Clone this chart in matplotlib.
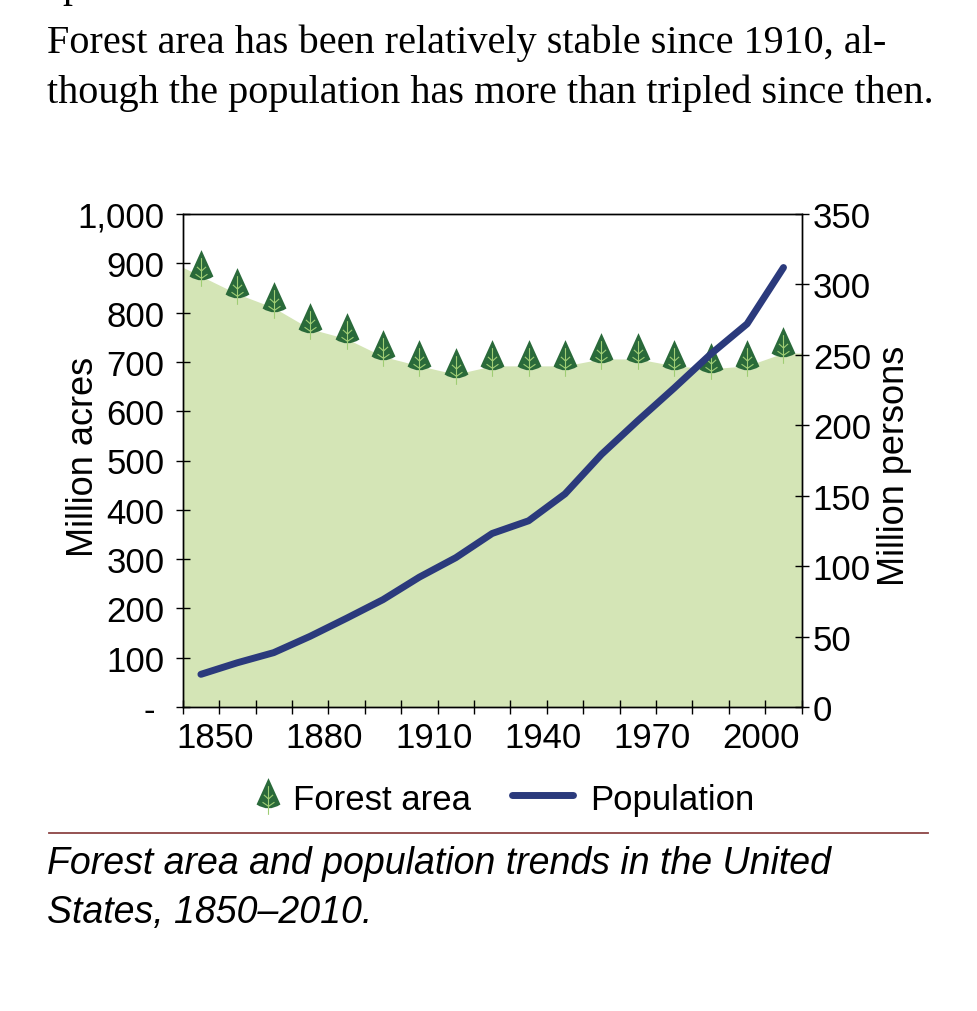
import numpy as np
import matplotlib
matplotlib.use("Agg")
import matplotlib.pyplot as plt
from matplotlib.path import Path
from matplotlib.markers import MarkerStyle
from matplotlib.lines import Line2D
from matplotlib import font_manager
from matplotlib.ticker import FixedLocator, FuncFormatter
import matplotlib.transforms as mtransforms

# ---------------- data ----------------
years = [1850, 1860, 1870, 1880, 1890, 1900, 1910, 1920, 1930, 1940,
         1950, 1960, 1970, 1980, 1990, 2000, 2010]
forest_area = [874, 838, 810, 767, 747, 711, 692, 675, 692, 692,
               692, 706, 706, 692, 686, 692, 718]          # million acres
population = [23.2, 31.4, 38.6, 50.2, 63.0, 76.2, 92.2, 106.0, 123.2, 132.2,
              151.3, 179.3, 203.3, 226.5, 250.5, 272.0, 312.0]  # million persons
x_labels = ["1850", "1880", "1910", "1940", "1970", "2000"]
left_ticks = [0, 100, 200, 300, 400, 500, 600, 700, 800, 900, 1000]
right_ticks = [0, 50, 100, 150, 200, 250, 300, 350]

title_lines = ["Forest area has been relatively stable since 1910, al-",
               "though the population has more than tripled since then."]
caption_lines = ["Forest area and population trends in the United",
                 "States, 1850\u20132010."]

# ---------------- style ----------------
AREA = "#d4e5b6"
TREE = "#2a6a3a"
VEIN = "#9fcd74"
NAVY = "#2b3a7c"
RULE = "#8c4444"


def available(name):
    try:
        font_manager.findfont(font_manager.FontProperties(family=name),
                              fallback_to_default=False)
        return True
    except Exception:
        return False


if available("Liberation Sans Narrow"):
    SANS, TICK_FS, LAB_FS = "Liberation Sans Narrow", 29, 31
else:
    SANS, TICK_FS, LAB_FS = "Liberation Sans", 25, 26
plt.rcParams["font.family"] = [SANS, "DejaVu Sans"]

W, H = 978, 1012
fig = plt.figure(figsize=(W / 100, H / 100), dpi=100)
fig.patch.set_facecolor("white")


def fx(px):
    return px / W


def fy(py):
    return 1 - py / H


# tree marker paths (same scale anchor: apex at 1.15)
M, L, C3, CL = Path.MOVETO, Path.LINETO, Path.CURVE3, Path.CLOSEPOLY
body_path = Path([(0, 1.15), (-0.52, 0.0), (0, -0.34), (0.52, 0.0), (0, 1.15), (0, 1.15)],
                 [M, L, C3, C3, L, CL])
vein_path = Path([(0, 1.15), (0, 0.8), (0, -0.45),
                  (-0.2, 0.42), (0, 0.24), (0.2, 0.42),
                  (-0.26, 0.1), (0, -0.08), (0.26, 0.1)],
                 [M, M, L, M, L, L, M, L, L])
TREE_MS = 38


def draw_trees(target, xs, ys, **kw):
    target.plot(xs, ys, ls="none", marker=MarkerStyle(body_path), ms=TREE_MS,
                mfc=TREE, mec="none", mew=0, **kw)
    target.plot(xs, ys, ls="none", marker=MarkerStyle(vein_path), ms=TREE_MS,
                mfc="none", mec=VEIN, mew=0.8, **kw)


# ---------------- axes ----------------
ax = fig.add_axes([fx(182.7), fy(708), fx(801.7) - fx(182.7), fy(215) - fy(708)])

yrs = np.array(years, dtype=float)
fa = np.array(forest_area, dtype=float)
step = yrs[1] - yrs[0]
left_edge, right_edge = yrs[0] - step / 2, yrs[-1] + step / 2
fa_left = fa[0] - (fa[1] - fa[0]) / 2
fa_right = fa[-1]
ax.fill_between(np.r_[left_edge, yrs, right_edge], np.r_[fa_left, fa, fa_right], 0,
                color=AREA, lw=0, zorder=1)
draw_trees(ax, yrs, fa, zorder=3, clip_on=False)

ax.set_xlim(left_edge, right_edge)
ax.set_ylim(0, 1000)
ax.yaxis.set_major_locator(FixedLocator(left_ticks))
ax.yaxis.set_major_formatter(FuncFormatter(lambda v, p: "- " if v == 0 else f"{int(v):,}"))

boundaries = np.arange(left_edge, right_edge + 1, step)
ax.xaxis.set_major_locator(FixedLocator(boundaries))


def xfmt(v, p):
    s = str(int(round(v - step / 2)))
    return s if s in x_labels else ""


ax.xaxis.set_major_formatter(FuncFormatter(xfmt))

for s in ax.spines.values():
    s.set_color("black")
    s.set_linewidth(1.0)

ax.tick_params(axis="y", direction="inout", length=10, width=1, pad=8,
               labelsize=TICK_FS, colors="black")
ax.tick_params(axis="x", direction="inout", length=9.5, width=1, pad=5,
               labelsize=TICK_FS, colors="black")
ax.set_ylabel("Million acres", fontsize=LAB_FS)
ax.yaxis.set_label_coords(-0.132, 0.509)

ax2 = ax.twinx()
ax2.plot(yrs, population, color=NAVY, lw=5, solid_capstyle="round",
         solid_joinstyle="round", zorder=4)
ax2.set_ylim(0, 350)
ax2.yaxis.set_major_locator(FixedLocator(right_ticks))
ax2.yaxis.set_major_formatter(FuncFormatter(lambda v, p: f"{int(v)}"))
for s in ax2.spines.values():
    s.set_color("black")
    s.set_linewidth(1.0)
ax2.tick_params(axis="y", direction="inout", length=10, width=1, pad=3,
                labelsize=TICK_FS, colors="black")
ax2.set_ylabel("Million persons", fontsize=LAB_FS)
ax2.yaxis.set_label_coords(1.1216, 0.491)

# ---------------- legend (manual) ----------------
leg_tree = fig.add_axes([0, 0, 1, 1], facecolor="none")
leg_tree.set_axis_off()
leg_tree.set_xlim(0, 1)
leg_tree.set_ylim(0, 1)
draw_trees(leg_tree, [fx(268)], [fy(805)], clip_on=False)
fig.text(fx(293), fy(810), "Forest area", fontsize=TICK_FS, va="baseline")
fig.add_artist(Line2D([fx(512), fx(573)], [fy(796), fy(796)], color=NAVY, lw=5,
                      solid_capstyle="round"))
fig.text(fx(590), fy(810), "Population", fontsize=TICK_FS, va="baseline")

# ---------------- title / caption ----------------
SERIF = ["Liberation Serif", "DejaVu Serif"]
fig.text(fx(62), 1 + 3 / H, "p", family=SERIF, fontsize=29, va="baseline")
fig.text(fx(47), fy(53), title_lines[0], family=SERIF, fontsize=29, va="baseline")
fig.text(fx(47), fy(103), title_lines[1], family=SERIF, fontsize=29, va="baseline")

fig.add_artist(Line2D([fx(49), fx(928)], [fy(834), fy(834)], color=RULE, lw=1.3))
CAP = ["Liberation Sans", "DejaVu Sans"]
fig.text(fx(47), fy(874), caption_lines[0], family=CAP, style="italic",
         fontsize=27, va="baseline")
fig.text(fx(47), fy(923), caption_lines[1], family=CAP, style="italic",
         fontsize=27, va="baseline")

# shift x tick labels slightly left as in reference
offset = mtransforms.ScaledTranslation(-4 / 100, 0, fig.dpi_scale_trans)
for lab in ax.get_xticklabels():
    lab.set_transform(lab.get_transform() + offset)

fig.savefig("out.png", dpi=100, facecolor="white")
